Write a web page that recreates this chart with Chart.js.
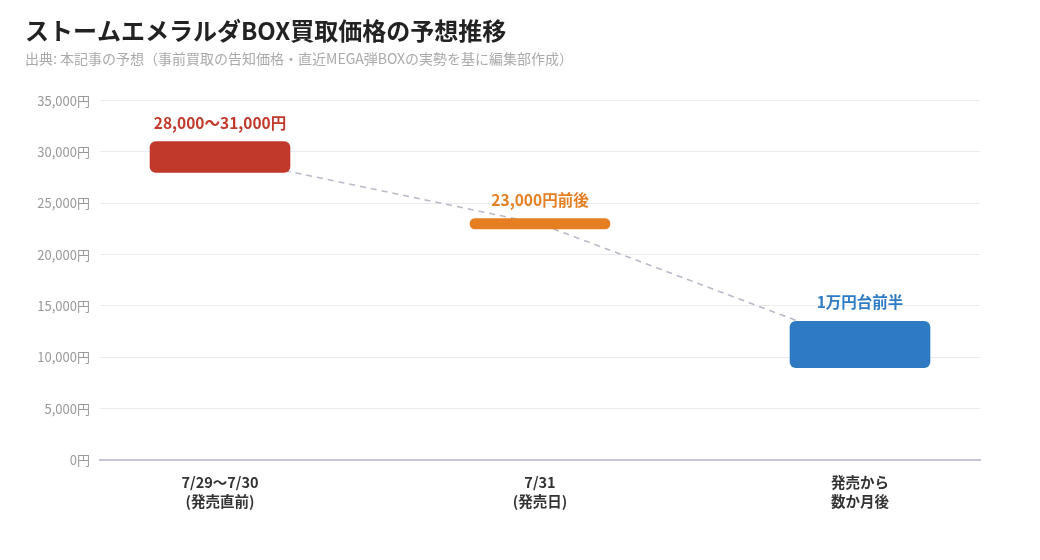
<!DOCTYPE html>
<html lang="ja">
<head>
<meta charset="utf-8">
<title>ストームエメラルダBOX買取価格の予想推移</title>
<script src="https://cdn.jsdelivr.net/npm/chart.js@4.4.1/dist/chart.umd.min.js"></script>
<style>
  html,body{margin:0;padding:0;background:#fff;}
  #wrap{width:1040px;height:560px;}
</style>
</head>
<body>
<div id="wrap"><canvas id="chartPreco" width="1040" height="560"></canvas></div>
<script>
// dados
const categorias = [['7/29〜7/30','(発売直前)'], ['7/31','(発売日)'], ['発売から','数か月後']];
const faixaMin   = [28000, 22500, 9000];
const faixaMax   = [31000, 23500, 13500];
const tendencia  = [29500, 23000, 11250];
const rotulos    = ['28,000〜31,000円', '23,000円前後', '1万円台前半'];
const cores      = ['#c0392b', '#e67e22', '#2e7bc4'];
const yTicks     = [0, 5000, 10000, 15000, 20000, 25000, 30000, 35000];

const FONT = '"Noto Sans CJK JP","Noto Sans",sans-serif';
Chart.defaults.font.family = FONT;

// rótulos em cima das barras
const labelPlugin = {
  id: 'rotuloBarras',
  afterDatasetsDraw(chart){
    const meta = chart.getDatasetMeta(1);
    const ctx = chart.ctx;
    ctx.save();
    ctx.font = 'bold 15.5px ' + FONT;
    ctx.textAlign = 'center';
    ctx.textBaseline = 'middle';
    meta.data.forEach((el,i)=>{
      const top = Math.min(el.y, el.base);
      ctx.fillStyle = cores[i];
      ctx.fillText(rotulos[i], el.x, top - 19);
    });
    ctx.restore();
  }
};

new Chart(document.getElementById('chartPreco').getContext('2d'), {
  type: 'bar',
  data: {
    datasets: [
      {
        type: 'line',
        data: tendencia.map((v,i)=>({x:i, y:v})),
        borderColor: '#b9b9c9',
        borderWidth: 1.6,
        borderDash: [6,5],
        pointRadius: 0,
        fill: false,
        order: 2
      },
      {
        type: 'bar',
        data: faixaMin.map((v,i)=>({x:i, y:[v, faixaMax[i]]})),
        backgroundColor: cores,
        borderRadius: 6,
        borderSkipped: false,
        barThickness: 140,
        order: 1
      }
    ]
  },
  options: {
    responsive: false,
    animation: false,
    devicePixelRatio: 1,
    layout: { padding: { left: 25, right: 60, top: 12, bottom: 44 } },
    plugins: {
      legend: { display: false },
      tooltip: { enabled: false },
      title: {
        display: true, align: 'start',
        text: 'ストームエメラルダBOX買取価格の予想推移',
        color: '#222', font: { size: 24, weight: 'bold' },
        padding: { top: 4, bottom: 5 }
      },
      subtitle: {
        display: true, align: 'start',
        text: '出典: 本記事の予想（事前買取の告知価格・直近MEGA弾BOXの実勢を基に編集部作成）',
        color: '#aaa', font: { size: 14 },
        padding: { top: 0, bottom: 34 }
      }
    },
    scales: {
      x: {
        type: 'linear',
        offset: false,
        min: -0.375, max: 2.375,
        afterBuildTicks: s => { s.ticks = categorias.map((c,i)=>({value:i})); },
        grid: { display: false },
        border: { display: true, color: '#c6c6d4', width: 2 },
        ticks: {
          color: '#333', font: { size: 14.5, weight: 'bold', lineHeight: 1.31 },
          padding: 5,
          callback: v => categorias[v]
        }
      },
      y: {
        min: 0, max: 35000,
        afterBuildTicks: s => { s.ticks = yTicks.map(v=>({value:v})); },
        afterFit: s => { s.width = 75; },
        grid: { color: '#ebebef', lineWidth: 1, drawTicks: false },
        border: { display: false },
        ticks: {
          color: '#999', font: { size: 13 }, padding: 10,
          callback: v => v.toLocaleString('ja-JP') + '円'
        }
      }
    }
  },
  plugins: [labelPlugin]
});
</script>
</body>
</html>
